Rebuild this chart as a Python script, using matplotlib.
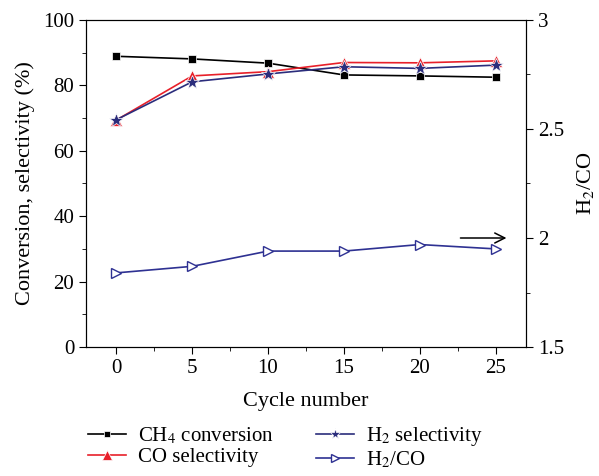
import matplotlib
matplotlib.use("Agg")
import matplotlib.pyplot as plt
from matplotlib.ticker import MultipleLocator

plt.rcParams['font.family'] = ['Liberation Serif', 'DejaVu Serif']
plt.rcParams['mathtext.fontset'] = 'stix'
plt.rcParams['font.size'] = 14

cycles = [0, 5, 10, 15, 20, 25]
ch4_conversion = [88.9, 88.1, 86.8, 83.2, 82.9, 82.5]
co_selectivity = [69.4, 82.9, 84.2, 87.0, 86.9, 87.5]
h2_selectivity = [69.5, 81.1, 83.5, 85.7, 85.2, 86.2]
h2_co_ratio = [1.84, 1.87, 1.94, 1.94, 1.97, 1.95]

fig = plt.figure(figsize=(5.99, 4.76), dpi=100)
ax = fig.add_axes([0.1436, 0.271, 0.7344, 0.687])
ax2 = ax.twinx()

l1, = ax.plot(cycles, ch4_conversion, color='black', marker='s', markersize=6,
              markeredgecolor='white', markeredgewidth=0.5,
              lw=1.2, label='CH$_4$ conversion')
l2, = ax.plot(cycles, co_selectivity, color='#e8202a', marker='^', markersize=9,
              markeredgecolor='white', markeredgewidth=0.5,
              lw=1.2, label='CO selectivity')
l3, = ax.plot(cycles, h2_selectivity, color='#2b2d7c', marker='*', markersize=10,
              markeredgecolor='white', markeredgewidth=0.5,
              lw=1.2, label='H$_2$ selectivity')
l4, = ax2.plot(cycles, h2_co_ratio, color='#2e3192', marker='>', markersize=7,
               markerfacecolor='white', lw=1.2, label='H$_2$/CO')

ax2.annotate('', xy=(25.9, 2.0), xytext=(22.5, 2.0),
             arrowprops=dict(arrowstyle='->', color='black', lw=1.1,
                             mutation_scale=18))

ax.set_xlim(-2, 27)
ax.set_ylim(0, 100)
ax2.set_ylim(1.5, 3)
ax.xaxis.set_major_locator(MultipleLocator(5))
ax.xaxis.set_minor_locator(MultipleLocator(2.5))
ax.yaxis.set_major_locator(MultipleLocator(20))
ax.yaxis.set_minor_locator(MultipleLocator(10))
ax2.set_yticks([1.5, 2, 2.5, 3])
ax2.set_yticklabels(['1.5', '2', '2.5', '3'])
ax2.yaxis.set_minor_locator(MultipleLocator(0.25))

for a in (ax, ax2):
    a.tick_params(which='major', direction='out', length=5, labelsize=15)
    a.tick_params(which='minor', direction='out', length=3)

ax.set_xlabel('Cycle number', fontsize=16, labelpad=10)
ax.set_ylabel('Conversion, selectivity (%)', fontsize=16, labelpad=6)
ax2.set_ylabel('H$_2$/CO', fontsize=16, labelpad=8)

fig.legend(handles=[l1, l2, l3, l4], ncol=2, frameon=False, fontsize=15,
           loc='upper left', bbox_to_anchor=(0.13, 0.128),
           handlelength=1.8, handletextpad=0.6, columnspacing=2.0,
           labelspacing=0.05, markerscale=0.8, borderpad=0.0)

fig.savefig('out.png', dpi=100)
